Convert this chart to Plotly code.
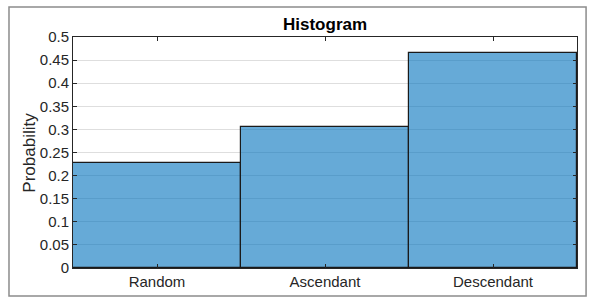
import plotly.graph_objects as go

categories = ["Random", "Ascendant", "Descendant"]
probabilities = [0.227, 0.306, 0.466]
y_ticks = [0, 0.05, 0.1, 0.15, 0.2, 0.25, 0.3, 0.35, 0.4, 0.45, 0.5]
y_tick_labels = ["0", "0.05", "0.1", "0.15", "0.2", "0.25", "0.3", "0.35", "0.4", "0.45", "0.5"]

FONT = "Liberation Sans, Arial, sans-serif"
AX = "#262626"

fig = go.Figure(go.Bar(
    x=categories, y=probabilities, width=1,
    marker=dict(color="rgba(0,114,189,0.6)", line=dict(color="#1a1a1a", width=1.2)),
))

fig.update_layout(
    width=593, height=302,
    margin=dict(l=73, r=16, t=37, b=34),
    paper_bgcolor="white", plot_bgcolor="white",
    bargap=0, showlegend=False,
    font=dict(family=FONT, size=15, color=AX),
    shapes=[dict(type="rect", xref="paper", yref="paper",
                 x0=-0.127, x1=1.018, y0=-0.121, y1=1.130,
                 line=dict(color="#8c8c8c", width=1.5), fillcolor="rgba(0,0,0,0)", layer="below")],
    annotations=[
        dict(text="<b>Histogram</b>", xref="paper", yref="paper", x=0.5, y=1.052,
             xanchor="center", yanchor="middle", showarrow=False, font=dict(size=17, color="black")),
        dict(text="Probability", xref="paper", yref="paper", x=-0.087, y=0.5, textangle=-90,
             xanchor="center", yanchor="middle", showarrow=False, font=dict(size=17, color=AX)),
    ],
)
fig.update_xaxes(
    range=[-0.5, 2.5], showline=True, linecolor=AX, linewidth=1, mirror="ticks",
    ticks="inside", ticklen=4, tickcolor=AX, showgrid=False, layer="above traces",
    tickfont=dict(size=15, color=AX),
)
fig.update_yaxes(
    range=[0, 0.5], tickvals=y_ticks, ticktext=y_tick_labels,
    showline=True, linecolor=AX, linewidth=1, mirror="ticks",
    ticks="inside", ticklen=4, tickcolor=AX, showgrid=True, gridcolor="#dedede", gridwidth=1,
    zeroline=False, layer="above traces", tickfont=dict(size=15, color=AX),
)
fig.write_html("out.html", config={"displayModeBar": False},
               post_script="document.body.style.margin='0';document.body.style.overflow='hidden';")
